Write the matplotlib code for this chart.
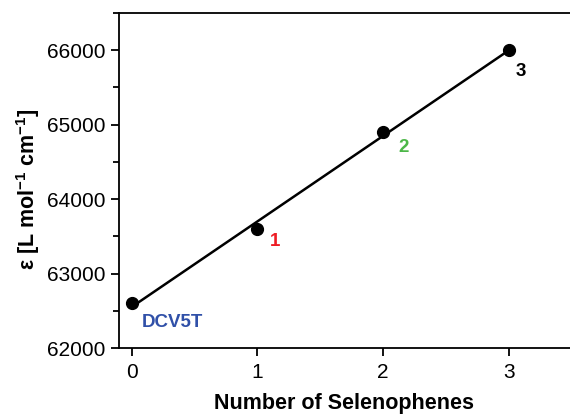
import matplotlib
matplotlib.use("Agg")
import matplotlib.pyplot as plt
import numpy as np
from matplotlib.ticker import MultipleLocator

plt.rcParams['font.family'] = ['Liberation Sans', 'DejaVu Sans']
plt.rcParams['mathtext.fontset'] = 'custom'
plt.rcParams['mathtext.rm'] = 'Liberation Sans'
plt.rcParams['mathtext.bf'] = 'Liberation Sans:bold'

n_se = [0, 1, 2, 3]
epsilon = [62600, 63600, 64900, 66000]
labels = ["DCV5T", "1", "2", "3"]
label_colors = ["#3050a8", "#ee1c24", "#4cb748", "#000000"]

fig = plt.figure(figsize=(5.7, 4.15), dpi=100)
ax = fig.add_axes([119/570, 67/415, 1 - 119/570, (348-13)/415])

coef = np.polyfit(n_se, epsilon, 1)
xs = np.array([min(n_se), max(n_se)])
ax.plot(xs, np.polyval(coef, xs), color='black', lw=1.8, zorder=2)
ax.plot(n_se, epsilon, 'o', color='black', ms=8.5, zorder=3)

offsets = [(7, -14), (9, -9), (11, -11), (5, -15)]
for x, y, t, c, off in zip(n_se, epsilon, labels, label_colors, offsets):
    ax.annotate(t, (x, y), xytext=off, textcoords='offset points',
                color=c, fontsize=13.5, fontweight='bold', ha='left', va='center')

ax.set_xlim(-0.1, 3.485)
ax.set_ylim(62000, 66500)
ax.set_xticks([0, 1, 2, 3])
ax.yaxis.set_major_locator(MultipleLocator(1000))
ax.yaxis.set_minor_locator(MultipleLocator(500))
ax.spines['right'].set_visible(False)
for s in ['left', 'bottom', 'top']:
    ax.spines[s].set_linewidth(1.3)
ax.tick_params(which='both', direction='out', width=1.3, labelsize=15)
ax.tick_params(which='major', length=6)
ax.tick_params(which='minor', length=4)
ax.tick_params(axis='x', pad=5)

ax.set_xlabel("Number of Selenophenes", fontsize=15.5, fontweight='bold', labelpad=8)
ax.set_ylabel(r"ε [L mol$^{\mathbf{-1}}$ cm$^{\mathbf{-1}}$]", fontsize=15.5, fontweight='bold')
ax.yaxis.set_label_coords(-0.17, 0.473)

fig.savefig("out.png", dpi=100)
